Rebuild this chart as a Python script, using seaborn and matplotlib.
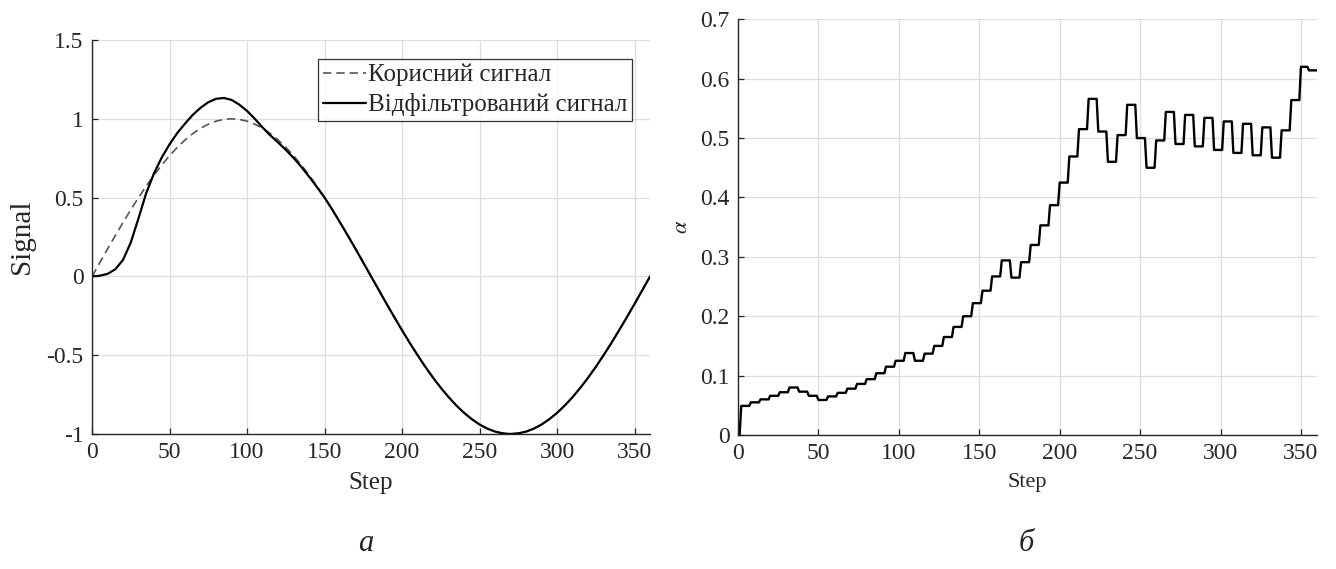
import numpy as np
import pandas as pd
import matplotlib
matplotlib.use("Agg")
import matplotlib.pyplot as plt
import seaborn as sns

# ---- panel (a): useful signal vs filtered signal, sampled every 5 steps ----
step_a = list(range(0, 361, 5))
useful = [
    0.000, 0.087, 0.174, 0.259, 0.342, 0.423, 0.500, 0.574, 0.643, 0.707,
    0.766, 0.819, 0.866, 0.906, 0.940, 0.966, 0.985, 0.996, 1.000, 0.996,
    0.985, 0.966, 0.940, 0.906, 0.866, 0.819, 0.766, 0.707, 0.643, 0.574,
    0.500, 0.423, 0.342, 0.259, 0.174, 0.087, 0.000, -0.087, -0.174, -0.259,
    -0.342, -0.423, -0.500, -0.574, -0.643, -0.707, -0.766, -0.819, -0.866, -0.906,
    -0.940, -0.966, -0.985, -0.996, -1.000, -0.996, -0.985, -0.966, -0.940, -0.906,
    -0.866, -0.819, -0.766, -0.707, -0.643, -0.574, -0.500, -0.423, -0.342, -0.259,
    -0.174, -0.087, 0.000,
]
filtered = [
    0.000, 0.004, 0.016, 0.045, 0.105, 0.215, 0.370, 0.530, 0.655, 0.755,
    0.838, 0.910, 0.970, 1.025, 1.070, 1.105, 1.127, 1.132, 1.120, 1.090,
    1.050, 1.000, 0.945, 0.895, 0.850, 0.803, 0.752, 0.695, 0.633, 0.568,
    0.500, 0.423, 0.342, 0.259, 0.174, 0.087, 0.000, -0.087, -0.174, -0.259,
    -0.342, -0.423, -0.500, -0.574, -0.643, -0.707, -0.766, -0.819, -0.866, -0.906,
    -0.940, -0.966, -0.985, -0.996, -1.000, -0.996, -0.985, -0.966, -0.940, -0.906,
    -0.866, -0.819, -0.766, -0.707, -0.643, -0.574, -0.500, -0.423, -0.342, -0.259,
    -0.174, -0.087, 0.000,
]
legend_labels = ["Корисний сигнал", "Відфільтрований сигнал"]

# ---- panel (б): smoothing coefficient alpha, held constant over blocks of steps ----
alpha_levels = [
    0.000,
    0.049, 0.055, 0.060, 0.066, 0.072, 0.080, 0.073, 0.066, 0.059, 0.065,
    0.071, 0.078, 0.086, 0.094, 0.104, 0.115, 0.125, 0.138, 0.125, 0.137,
    0.150, 0.165, 0.182, 0.200, 0.222, 0.243, 0.267, 0.294, 0.265, 0.291,
    0.320, 0.353, 0.387, 0.425, 0.469, 0.515, 0.566, 0.511, 0.460, 0.505,
    0.556, 0.500, 0.450, 0.496, 0.544, 0.490, 0.539, 0.486, 0.534, 0.480,
    0.528, 0.475, 0.524, 0.471, 0.518, 0.467, 0.513, 0.564, 0.620, 0.614,
]
alpha_block_len = [2] + [6] * 57 + [6, 5, 6]

xticks = [0, 50, 100, 150, 200, 250, 300, 350]
yticks_a = [-1, -0.5, 0, 0.5, 1, 1.5]
ytick_labels_a = ["-1", "-0.5", "0", "0.5", "1", "1.5"]
yticks_b = [0, 0.1, 0.2, 0.3, 0.4, 0.5, 0.6, 0.7]
ytick_labels_b = ["0", "0.1", "0.2", "0.3", "0.4", "0.5", "0.6", "0.7"]

sns.set_theme(style="ticks")
plt.rcParams["font.family"] = ["Liberation Serif", "DejaVu Serif"]
plt.rcParams["mathtext.fontset"] = "stix"

df_a = pd.DataFrame({
    "Step": step_a * 2,
    "Signal": useful + filtered,
    "series": [legend_labels[0]] * len(step_a) + [legend_labels[1]] * len(step_a),
})

alpha_series = np.repeat(alpha_levels, alpha_block_len)
df_b = pd.DataFrame({"Step": np.arange(len(alpha_series)), "alpha": alpha_series})

fig = plt.figure(figsize=(13.36, 5.69), dpi=100)
ax1 = fig.add_axes([0.0689, 0.2373, 0.4177, 0.6924])
ax2 = fig.add_axes([0.5524, 0.2355, 0.4334, 0.7306])

grid_kw = dict(color="#dedede", linewidth=0.9)
tick_fs = 17

# panel (a)
sns.lineplot(data=df_a, x="Step", y="Signal", hue="series", style="series",
             palette=["#555555", "#000000"], dashes=[(5, 3), ""],
             size="series", sizes=[1.2, 1.6], ax=ax1, legend=False)
ax1.plot([], [], color="#555555", lw=1.2, dashes=(5, 3), label=legend_labels[0])
ax1.plot([], [], color="#000000", lw=1.6, label=legend_labels[1])
ax1.set_xlim(0, 360)
ax1.set_ylim(-1, 1.5)
ax1.set_xticks(xticks)
ax1.set_yticks(yticks_a)
ax1.set_yticklabels(ytick_labels_a)
ax1.set_xlabel("Step", fontsize=18, labelpad=6)
ax1.set_ylabel("Signal", fontsize=21, labelpad=8)
leg = ax1.legend(loc="upper right", bbox_to_anchor=(0.968, 0.952), fontsize=18,
                 frameon=True, fancybox=False, handlelength=1.7, handletextpad=0.08,
                 borderpad=0.2, labelspacing=0.28, borderaxespad=0.0)
leg.get_frame().set_edgecolor("#000000")
leg.get_frame().set_linewidth(0.9)

# panel (б)
sns.lineplot(data=df_b, x="Step", y="alpha", color="#000000", lw=1.7, ax=ax2)
ax2.set_xlim(0, 360)
ax2.set_ylim(0, 0.7)
ax2.set_xticks(xticks)
ax2.set_yticks(yticks_b)
ax2.set_yticklabels(ytick_labels_b)
ax2.set_xlabel("Step", fontsize=16, labelpad=6)
ax2.set_ylabel(r"$\alpha$", fontsize=16, labelpad=6)

for ax in (ax1, ax2):
    ax.grid(True, **grid_kw)
    ax.set_axisbelow(True)
    sns.despine(ax=ax)
    for side in ("left", "bottom"):
        ax.spines[side].set_color("#262626")
        ax.spines[side].set_linewidth(1.0)
    ax.tick_params(direction="in", length=4, width=0.9, colors="#262626",
                   labelsize=tick_fs, labelcolor="#262626", pad=6)

fig.text(0.2740, 0.045, "а", fontsize=22, style="italic", ha="center", va="center")
fig.text(0.7680, 0.045, "б", fontsize=22, style="italic", ha="center", va="center")

fig.savefig("out.png", dpi=100)
